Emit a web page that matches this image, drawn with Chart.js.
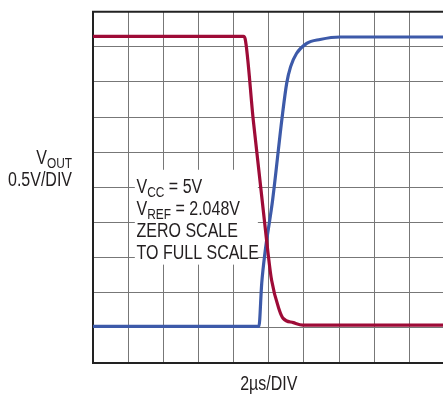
<!DOCTYPE html>
<html>
<head>
<meta charset="utf-8">
<script src="https://cdn.jsdelivr.net/npm/chart.js@4/dist/chart.umd.min.js"></script>
<style>
html,body{margin:0;padding:0;background:#fff;overflow:hidden;width:443px;height:394px;}
#wrap{position:absolute;left:0;top:0;width:460px;height:394px;}
</style>
</head>
<body>
<div id="wrap"><canvas id="c" width="460" height="394"></canvas></div>
<script>
// Divisions (10 x 10 graticule)
const xDivisions = [0, 10];
const yDivisions = [0, 10];

// Falling trace (full scale -> zero scale), in divisions
const redX = [0, 4.28, 4.33, 4.56, 4.97, 5.08, 5.30, 5.41, 5.70, 5.97, 10];
const redY = [9.3, 9.3, 9.22, 6.91, 3.21, 2.36, 1.51, 1.27, 1.15, 1.08, 1.08];

// Rising trace (zero scale -> full scale), in divisions
const blueX = [0, 4.72, 4.80, 4.89, 5.11, 5.38, 5.51, 5.62, 5.79, 6.08, 6.46, 7.03, 10];
const blueY = [1.04, 1.04, 2.27, 3.12, 4.64, 6.99, 7.96, 8.43, 8.81, 9.10, 9.21, 9.28, 9.28];

const xTitle = "2\u00b5s/DIV";
const yTitleMain = "V";
const yTitleSub = "OUT";
const yTitle2 = "0.5V/DIV";
const noteLines = [
  ["V", "CC", " = 5V"],
  ["V", "REF", " = 2.048V"],
  ["ZERO SCALE", "", ""],
  ["TO FULL SCALE", "", ""]
];

const FONT = '"Liberation Sans", Arial, sans-serif';
const SX = 0.82;        // condensed look
const BIG = '19.5px ' + FONT;
const SMALL = '14.5px ' + FONT;

const toPts = (xs, ys) => xs.map((x, i) => ({x: x, y: ys[i]}));

function txt(ctx, s, x, y, align) {
  ctx.save();
  ctx.translate(x, y);
  ctx.scale(SX, 1);
  ctx.textAlign = align || 'left';
  ctx.fillText(s, 0, 0);
  ctx.restore();
  return ctx.measureText(s).width * SX;
}
function w(ctx, s) { return ctx.measureText(s).width * SX; }

const overlay = {
  id: 'overlay',
  beforeDatasetsDraw(chart) {
    const ctx = chart.ctx;
    const a = chart.chartArea;
    ctx.save();
    // frame
    ctx.strokeStyle = '#222';
    ctx.lineWidth = 2;
    ctx.beginPath();
    ctx.moveTo(a.right + 5, a.top);
    ctx.lineTo(a.left, a.top);
    ctx.lineTo(a.left, a.bottom);
    ctx.lineTo(a.right + 5, a.bottom);
    ctx.stroke();
    // note box
    const xs = chart.scales.x, ys = chart.scales.y;
    const bx = xs.getPixelForValue(1.19), by = ys.getPixelForValue(5.5);
    const bx2 = xs.getPixelForValue(4.69), by2 = ys.getPixelForValue(2.8);
    ctx.fillStyle = '#fff';
    ctx.fillRect(bx, by, bx2 - bx, by2 - by);
    ctx.restore();
  },
  afterDatasetsDraw(chart) {
    const ctx = chart.ctx;
    const a = chart.chartArea;
    ctx.save();
    ctx.fillStyle = '#231f20';
    ctx.textBaseline = 'alphabetic';
    // note text
    const xs = chart.scales.x;
    const tx = xs.getPixelForValue(1.24);
    const base = 193;
    noteLines.forEach((ln, i) => {
      let x = tx;
      const y = base + i * 22;
      ctx.font = BIG;
      x += txt(ctx, ln[0], x, y);
      if (ln[1]) {
        ctx.font = SMALL;
        x += txt(ctx, ln[1], x, y + 4);
      }
      if (ln[2]) {
        ctx.font = BIG;
        txt(ctx, ln[2], x, y);
      }
    });
    // y title
    ctx.font = SMALL;
    const subW = w(ctx, yTitleSub);
    txt(ctx, yTitleSub, 72, 168, 'right');
    ctx.font = BIG;
    txt(ctx, yTitleMain, 72 - subW, 164, 'right');
    txt(ctx, yTitle2, 72, 186, 'right');
    // x title
    txt(ctx, xTitle, (a.left + a.right) / 2, 390, 'center');
    ctx.restore();
  }
};

new Chart(document.getElementById('c'), {
  type: 'scatter',
  data: {
    datasets: [
      {data: toPts(redX, redY), showLine: true, borderColor: '#9e0b37', borderWidth: 3.2,
       pointRadius: 0, cubicInterpolationMode: 'monotone', borderJoinStyle: 'round', borderCapStyle: 'round'},
      {data: toPts(blueX, blueY), showLine: true, borderColor: '#3d5aa9', borderWidth: 3.2,
       pointRadius: 0, cubicInterpolationMode: 'monotone', borderJoinStyle: 'round', borderCapStyle: 'round'}
    ]
  },
  options: {
    responsive: false,
    animation: false,
    events: [],
    layout: {padding: {left: 93, right: 15.5, top: 11.7, bottom: 31}},
    plugins: {legend: {display: false}, tooltip: {enabled: false}},
    scales: {
      x: {type: 'linear', min: xDivisions[0], max: xDivisions[1],
          ticks: {display: false, stepSize: 1},
          grid: {color: '#777', lineWidth: 1, drawTicks: false},
          border: {display: false}},
      y: {type: 'linear', min: yDivisions[0], max: yDivisions[1],
          ticks: {display: false, stepSize: 1},
          grid: {color: '#777', lineWidth: 1, drawTicks: false},
          border: {display: false}}
    }
  },
  plugins: [overlay]
});
</script>
</body>
</html>
